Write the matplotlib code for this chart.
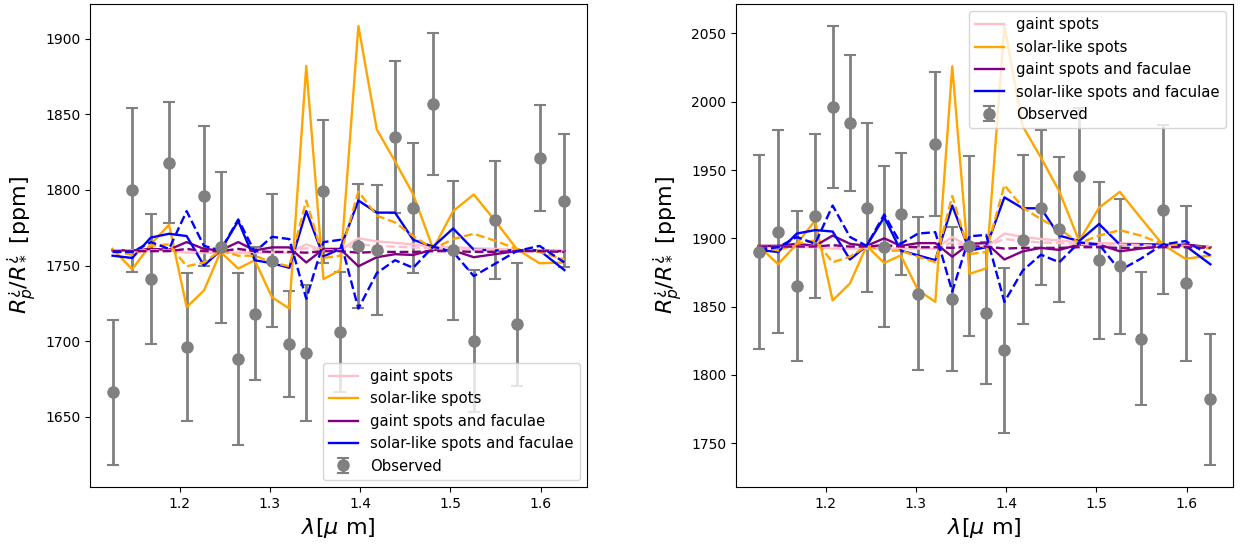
import numpy as np
import matplotlib
matplotlib.use("Agg")
import matplotlib.pyplot as plt

wavelength = [1.1256, 1.1473, 1.1680, 1.1882, 1.2077, 1.2269, 1.2453, 1.2649, 1.2832,
              1.3024, 1.3215, 1.3403, 1.3594, 1.3779, 1.3981, 1.4185, 1.4387, 1.4589,
              1.4810, 1.5031, 1.5260, 1.5492, 1.5735, 1.5989, 1.6265]

# ---------------- left panel ----------------
obs_left = [1666, 1800, 1741, 1818, 1696, 1796, 1762, 1688, 1718, 1753, 1698, 1692, 1799,
            1706, 1763, 1760, 1835, 1788, 1857, 1760, 1700, 1780, 1711, 1821, 1793]
err_left = [48, 54, 43, 40, 49, 46, 50, 57, 44, 44, 35, 45, 47,
            40, 41, 43, 50, 43, 47, 46, 47, 39, 41, 35, 44]

giant_left = [1760, 1760, 1760, 1760, 1758.5, 1758.5, 1758.5, 1758.5, 1758.5, 1758.5, 1758.5, 1764, 1760,
              1760, 1768, 1766, 1765, 1764, 1762.5, 1762, 1761.5, 1761, 1760.5, 1760, 1759]
giant_left_d = [1760, 1760, 1760, 1760, 1759, 1759, 1759, 1759, 1759, 1759, 1759, 1761.5, 1760,
                1760, 1764, 1763, 1762.5, 1762, 1761.5, 1761, 1760.5, 1760.5, 1760, 1760, 1759.5]
solar_left = [1761, 1747.5, 1764, 1777, 1722.5, 1733.5, 1759, 1748, 1753.5, 1729, 1721.5, 1882, 1741,
              1747, 1908.5, 1840, 1819, 1797, 1761, 1786, 1797, 1780, 1761, 1751.5, 1752]
solar_left_d = [1760, 1757, 1763, 1764, 1749.5, 1752, 1760, 1756.5, 1756.5, 1752, 1749.5, 1793, 1755,
                1756.5, 1799, 1783, 1778.5, 1769.5, 1761, 1767.5, 1771, 1766.5, 1761, 1759, 1754]
gfac_left = [1760, 1760, 1761, 1760.5, 1765.5, 1761, 1760, 1765.5, 1760, 1762, 1762, 1752, 1761,
             1761, 1749.5, 1755.5, 1757.5, 1757, 1760.5, 1760, 1755.5, 1757.5, 1759.5, 1760, 1759.5]
gfac_left_d = [1759.5, 1759.5, 1759.5, 1759.5, 1761, 1759.5, 1759.5, 1761, 1759.5, 1759, 1759, 1758.5, 1759.5,
               1759.5, 1758.5, 1759, 1759, 1759, 1759.5, 1759.5, 1759, 1759, 1759.5, 1759.5, 1759]
sfac_left = [1756.5, 1755, 1768.5, 1771, 1769.5, 1750, 1760, 1779.5, 1753.5, 1751.5, 1748.5, 1786, 1756,
             1761, 1793, 1785, 1785, 1767, 1762.5, 1774.5, 1760.5, 1760, 1760, 1760, 1747]
sfac_left_d = [1759, 1759, 1765.5, 1761, 1786, 1763, 1760, 1780.5, 1759, 1769, 1767.5, 1728, 1765.5,
               1767, 1721.5, 1745, 1753.5, 1748.5, 1762.5, 1759, 1743, 1751, 1759.5, 1763, 1752]

# ---------------- right panel ----------------
obs_right = [1890, 1905, 1865, 1916.5, 1996, 1984.5, 1922.5, 1894, 1918, 1859.5, 1969, 1855.5, 1894.5,
             1845.5, 1818, 1899, 1922.5, 1906.5, 1945.5, 1884, 1879.5, 1826.5, 1921, 1867, 1782]
err_right = [71, 74, 55, 60, 59.5, 50, 62, 59, 44.5, 56, 52.5, 53, 66,
             52, 60.5, 62, 57, 53, 50, 57.5, 49.5, 48.5, 62, 57, 48]

giant_right = [1893.5, 1893.5, 1893.5, 1893.5, 1892.5, 1892.5, 1892.5, 1892.5, 1892.5, 1892.5, 1892.5, 1901, 1893.5,
               1893.5, 1903.5, 1901, 1899.5, 1898.5, 1897, 1896.5, 1896.5, 1896, 1895, 1894.5, 1893.5]
giant_right_d = [1894, 1894, 1894, 1894, 1893, 1893, 1893, 1893, 1893, 1893, 1893, 1897, 1894,
                 1894, 1899.5, 1898, 1897, 1896.5, 1896, 1895.5, 1895.5, 1895, 1894.5, 1894, 1893.5]
solar_right = [1894.5, 1881, 1896, 1913, 1854.5, 1867, 1894.5, 1882, 1887.5, 1862, 1853.5, 2026, 1874,
               1878, 2055.5, 1982, 1959, 1934.5, 1898, 1922.5, 1934, 1915, 1895.5, 1885, 1887.5]
solar_right_d = [1894.5, 1891, 1896, 1898.5, 1882.5, 1886.5, 1894.5, 1891, 1891, 1886.5, 1882.5, 1931, 1888.5,
                 1890, 1939, 1922.5, 1914, 1907, 1896.5, 1902, 1906, 1902, 1896, 1894.5, 1892.5]
gfac_right = [1894.5, 1894.5, 1896, 1894.5, 1902, 1896, 1894.5, 1900, 1894.5, 1896.5, 1896.5, 1886.5, 1896,
              1896.5, 1884.5, 1890.5, 1893, 1891.5, 1895.5, 1895.5, 1890.5, 1892.5, 1894.5, 1895.5, 1893.5]
gfac_right_d = [1894, 1894, 1894, 1894, 1895, 1894, 1894, 1895, 1894, 1893.5, 1893.5, 1893, 1894,
                1894, 1892.5, 1893, 1893, 1893, 1893.5, 1893.5, 1893, 1893, 1893.5, 1893.5, 1893]
sfac_right = [1891.5, 1890, 1903.5, 1906, 1905, 1884.5, 1894.5, 1915.5, 1891, 1887.5, 1884, 1924, 1891,
              1893.5, 1930, 1922, 1922, 1902, 1898, 1910.5, 1895.5, 1895.5, 1895.5, 1894.5, 1881]
sfac_right_d = [1891.5, 1893.5, 1901, 1896, 1924, 1901, 1894.5, 1917.5, 1896, 1903.5, 1904.5, 1861, 1901.5,
                1902.5, 1853.5, 1876.5, 1888, 1882.5, 1897, 1895.5, 1876.5, 1885, 1895.5, 1898, 1887.5]

labels = ["gaint spots", "solar-like spots", "gaint spots and faculae", "solar-like spots and faculae"]
colors = ["pink", "orange", "purple", "blue"]

fig = plt.figure(figsize=(12.43, 5.48), dpi=100)
ax1 = fig.add_axes([90 / 1243, 1 - 487 / 548, 497 / 1243, 483 / 548])
ax2 = fig.add_axes([736 / 1243, 1 - 487 / 548, 497 / 1243, 483 / 548])

panels = [
    (ax1, obs_left, err_left, [giant_left, solar_left, gfac_left, sfac_left],
     [giant_left_d, solar_left_d, gfac_left_d, sfac_left_d], "lower right"),
    (ax2, obs_right, err_right, [giant_right, solar_right, gfac_right, sfac_right],
     [giant_right_d, solar_right_d, gfac_right_d, sfac_right_d], "upper right"),
]

for ax, obs, err, solid, dashed, loc in panels:
    ax.errorbar(wavelength, obs, yerr=err, fmt="o", color="gray", markersize=8,
                elinewidth=2, capsize=4, capthick=1.5, label="Observed")
    for vals, c, lab in zip(solid, colors, labels):
        ax.plot(wavelength, vals, color=c, lw=1.7, label=lab)
    for vals, c in zip(dashed, colors):
        ax.plot(wavelength, vals, color=c, lw=1.7, ls="--")
    ax.set_xlabel(r"$\lambda[\mu$ m]", fontsize=16)
    ax.set_ylabel(r"$R_p^{¿}/R_*^{¿}$ [ppm]", fontsize=16)
    ax.set_xticks([1.2, 1.3, 1.4, 1.5, 1.6])
    ax.legend(loc=loc, fontsize=10.7)

fig.savefig("out.png", dpi=100)
